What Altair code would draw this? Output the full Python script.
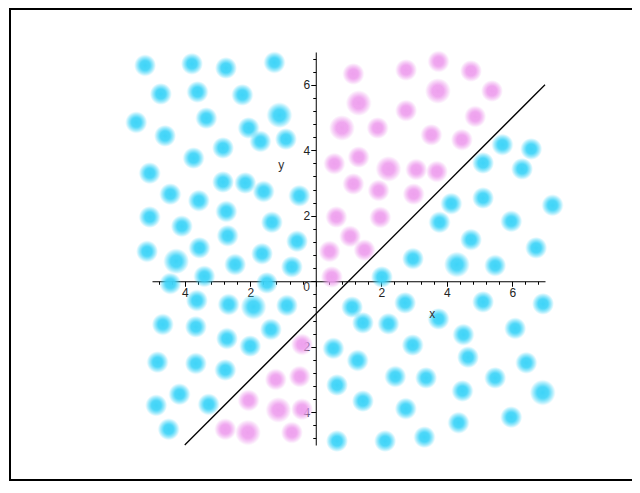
import altair as alt
import pandas as pd

# --- data ---
cyan_x = [-5.21, -3.78, -2.74, -1.26, -4.73, -3.61, -2.24, -1.11, -5.48, -3.34,
          -4.60, -2.05, -1.69, -0.91, -2.83, -3.73, -5.07, -2.83, -2.15, -1.59,
          -4.44, -3.57, -0.50, -2.73, -5.07, -1.34, -4.09, -2.69, -0.57, -5.15,
          -3.55, -1.64, -4.26, -2.46, -0.73, -3.40, -4.44, -1.49, -3.63, -2.66,
          -1.90, -0.88, -4.67, -3.66, -1.37, -2.71, -2.00, -4.83, -3.66, -2.76,
          -4.16, -4.87, -3.27, -4.49,
          2.02, 4.31, 5.48, 2.97, 6.73, 4.74, 3.78, 5.97, 4.14, 5.11,
          7.23, 5.11, 6.30, 5.70, 6.58,
          1.11, 2.73, 5.11, 6.94, 1.44, 2.22, 3.75, 6.09, 4.51, 0.54,
          2.96, 1.28, 4.65, 6.43, 2.43, 3.37, 5.48, 0.65, 4.48, 6.93,
          1.44, 2.75, 5.97, 4.36, 0.65, 2.12, 3.32]
cyan_y = [6.59, 6.64, 6.51, 6.68, 5.72, 5.78, 5.69, 5.07, 4.85, 4.98,
          4.44, 4.68, 4.27, 4.34, 4.07, 3.76, 3.30, 3.03, 3.00, 2.74,
          2.66, 2.46, 2.61, 2.13, 1.96, 1.80, 1.68, 1.39, 1.22, 0.91,
          1.02, 0.84, 0.61, 0.51, 0.44, 0.15, -0.07, -0.05, -0.59, -0.71,
          -0.78, -0.74, -1.32, -1.39, -1.47, -1.75, -1.98, -2.47, -2.51, -2.71,
          -3.45, -3.79, -3.76, -4.52,
          0.13, 0.51, 0.48, 0.69, 1.02, 1.27, 1.80, 1.83, 2.37, 2.54,
          2.32, 3.61, 3.43, 4.17, 4.04,
          -0.79, -0.66, -0.63, -0.69, -1.27, -1.30, -1.15, -1.44, -1.63, -2.05,
          -1.95, -2.42, -2.32, -2.49, -2.91, -2.95, -2.95, -3.17, -3.35, -3.40,
          -3.66, -3.89, -4.15, -4.32, -4.88, -4.88, -4.76]
cyan_s = [1, 1, 1, 1, 1, 1, 1, 1.35, 1, 1,
          1, 1, 1, 1, 1, 1, 1, 1, 1, 1,
          1, 1, 1, 1, 1, 1, 1, 1, 1, 1,
          1, 1, 1.35, 1, 1, 1, 1, 1, 1, 1,
          1.35, 1, 1, 1, 1, 1, 1, 1, 1, 1,
          1, 1, 1, 1,
          1, 1.35, 1, 1, 1, 1, 1, 1, 1, 1,
          1, 1, 1, 1, 1,
          1, 1, 1, 1, 1, 1, 1, 1, 1, 1,
          1, 1, 1, 1, 1, 1, 1, 1, 1, 1.35,
          1, 1, 1, 1, 1, 1, 1]

pink_x = [1.15, 2.76, 3.75, 4.74, 1.31, 3.73, 5.38, 2.76, 0.80, 1.89,
          4.87, 3.53, 4.46, 0.57, 1.31, 2.22, 3.07, 3.70, 1.15, 1.92,
          2.99, 0.63, 1.97, 1.05, 0.42, 1.49, 0.49,
          -0.42, -1.22, -0.49, -2.05, -1.14, -0.42, -2.76, -2.07, -0.73]
pink_y = [6.33, 6.45, 6.71, 6.42, 5.44, 5.81, 5.81, 5.21, 4.68, 4.68,
          5.03, 4.47, 4.32, 3.59, 3.79, 3.43, 3.41, 3.35, 2.97, 2.77,
          2.66, 1.96, 1.95, 1.37, 0.91, 0.95, 0.13,
          -1.93, -3.00, -2.91, -3.64, -3.93, -3.91, -4.52, -4.62, -4.62]
pink_s = [1, 1, 1, 1, 1.35, 1.35, 1, 1, 1.35, 1,
          1, 1, 1, 1, 1, 1.35, 1, 1, 1, 1,
          1, 1, 1, 1, 1, 1, 1,
          1, 1, 1, 1, 1.35, 1, 1, 1.35, 1]

line_x = [-4, 7]
line_y = [-5, 6]

text_labels = ["x", "y", "0"]
text_x = [3.56, -1.05, -0.28]
text_y = [-1.01, 3.56, -0.18]

tick_values = [round(-4.8 + 0.4 * i, 1) for i in range(30)]

# --- chart ---
W = 393
H = 393
DOM = [-5, 7]
off = -(5 / 12) * W

major = "round(datum.value*10) % 20 == 0"
axis_common = dict(
    values=tick_values,
    title=None,
    grid=False,
    domainColor="black",
    domainWidth=1,
    tickColor="black",
    tickWidth=1,
    tickSize={"condition": {"test": major, "value": 5}, "value": 3},
    labelExpr="(" + major + " && datum.value != 0) ? format(abs(datum.value), 'd') : ''",
    labelFont="Liberation Sans",
    labelFontSize=12,
    labelColor="#222222",
    labelPadding=1,
    offset=off,
    zindex=0,
)
ax_x = alt.Axis(orient="bottom", labelAngle=0, **axis_common)
ax_y = alt.Axis(orient="left", **axis_common)

X = alt.X("x:Q", scale=alt.Scale(domain=DOM, nice=False, zero=False), axis=ax_x)
Y = alt.Y("y:Q", scale=alt.Scale(domain=DOM, nice=False, zero=False), axis=ax_y)


def grad(r, g, b):
    return {
        "gradient": "radial",
        "stops": [
            {"offset": 0.0, "color": f"rgba({r},{g},{b},1)"},
            {"offset": 0.45, "color": f"rgba({r},{g},{b},0.92)"},
            {"offset": 0.75, "color": f"rgba({r},{g},{b},0.45)"},
            {"offset": 1.0, "color": f"rgba({r},{g},{b},0)"},
        ],
    }


cyan_df = pd.DataFrame({"x": cyan_x, "y": cyan_y, "s": cyan_s})
pink_df = pd.DataFrame({"x": pink_x, "y": pink_y, "s": pink_s})
line_df = pd.DataFrame({"x": line_x, "y": line_y})
text_df = pd.DataFrame({"x": text_x, "y": text_y, "t": text_labels})

size_scale = alt.Scale(domain=[1, 1.35], range=[480, 660])

cyan = alt.Chart(cyan_df).mark_circle(
    fill=grad(62, 212, 248), opacity=1, strokeWidth=0
).encode(x=X, y=Y, size=alt.Size("s:Q", scale=size_scale, legend=None))

pink = alt.Chart(pink_df).mark_circle(
    fill=grad(238, 160, 238), opacity=1, strokeWidth=0
).encode(x=X, y=Y, size=alt.Size("s:Q", scale=size_scale, legend=None))

line = alt.Chart(line_df).mark_line(color="black", strokeWidth=1.3).encode(x=X, y=Y)

texts = alt.Chart(text_df).mark_text(
    font="Liberation Sans", fontSize=12, color="#333333", align="center", baseline="middle"
).encode(x=X, y=Y, text="t:N")

# outer frame (its right side falls outside the picture, as in the reference)
frame_df = pd.DataFrame({"k": [0]})
frame = alt.Chart(frame_df).mark_rect(
    filled=False, fillOpacity=0, stroke="black", strokeWidth=2
).encode(
    x=alt.value(-142), x2=alt.value(600), y=alt.value(-43), y2=alt.value(428)
)

chart = alt.layer(cyan, pink, line, texts, frame).properties(
    width=W,
    height=H,
    autosize=alt.AutoSizeParams(type="none"),
    padding={"left": 144, "top": 44, "right": 87, "bottom": 36},
    background="white",
).configure_view(stroke=None)

chart.save("out.html", embed_options={"renderer": "svg", "actions": False})
